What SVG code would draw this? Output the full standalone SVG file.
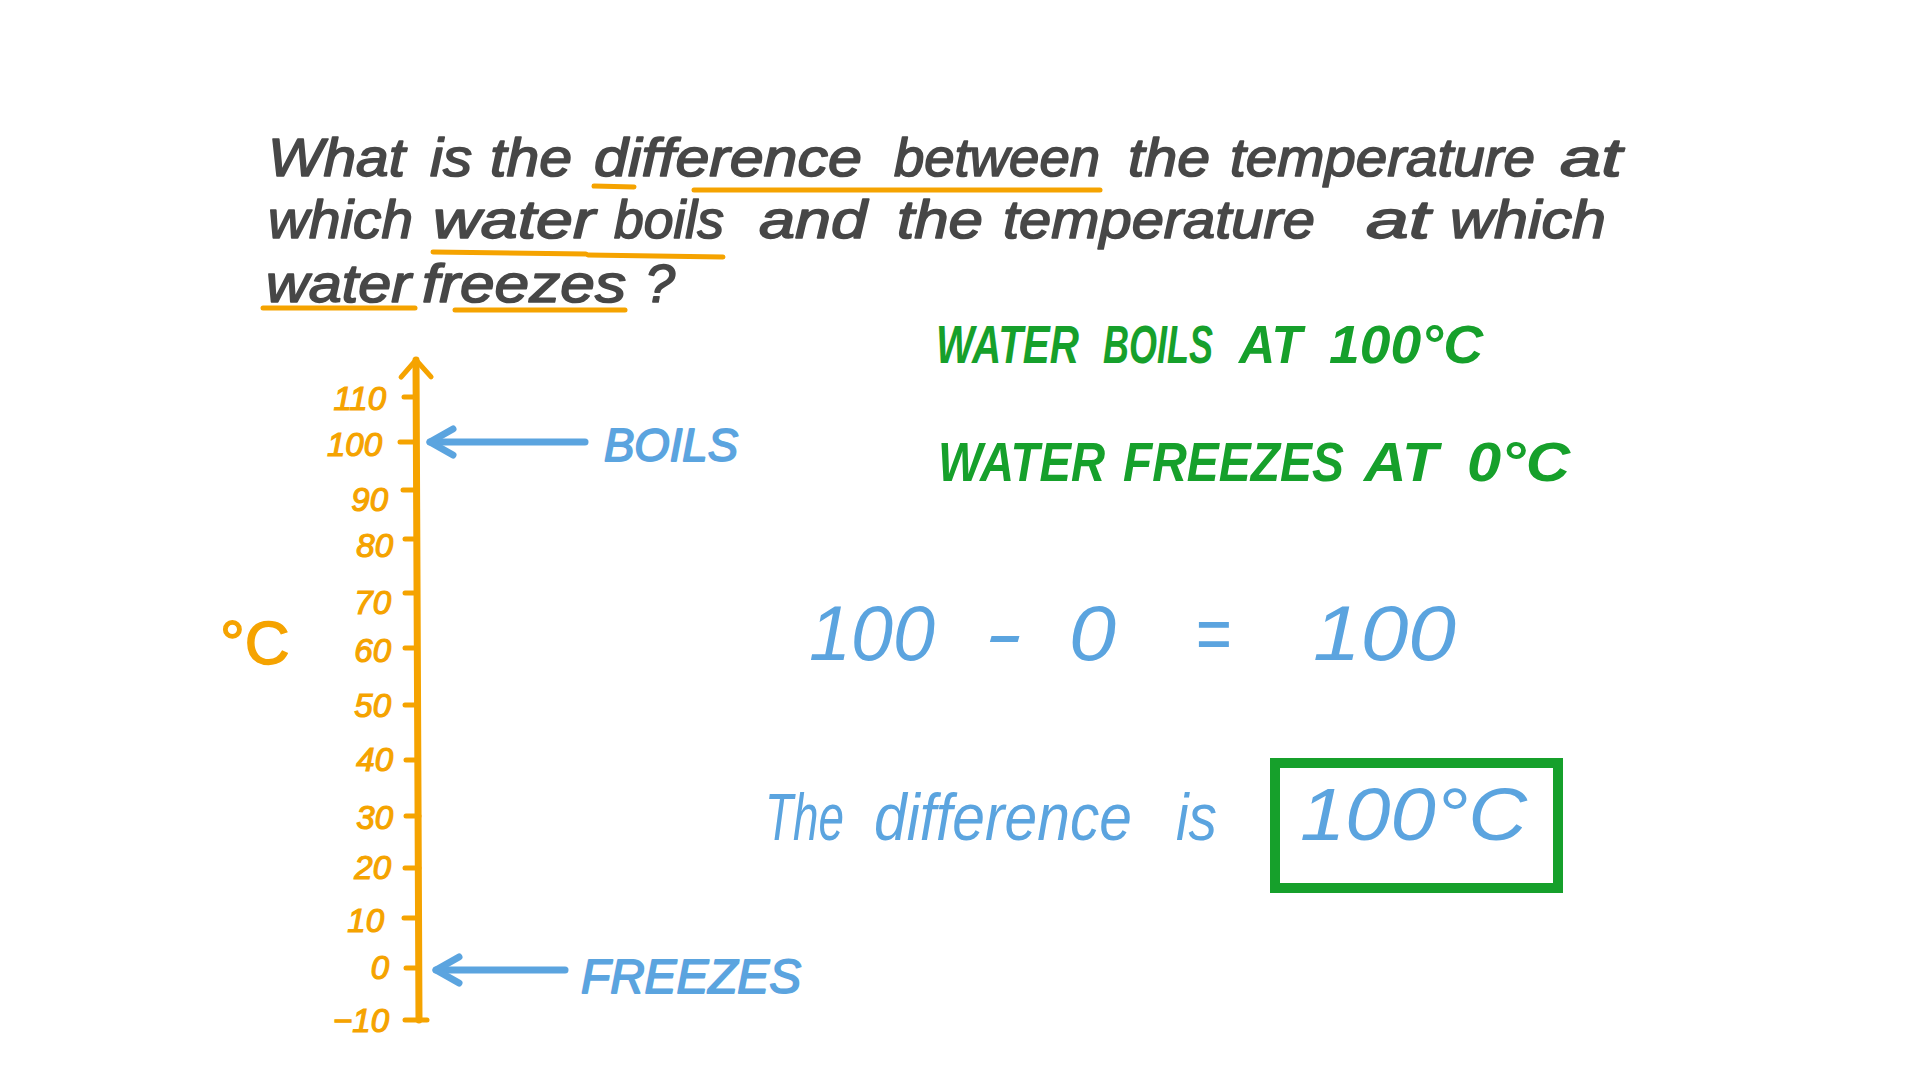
<svg xmlns="http://www.w3.org/2000/svg" width="1920" height="1080" viewBox="0 0 1920 1080">
<style>
.q{font-family:"Liberation Sans",Arial,sans-serif;font-style:italic;font-size:54px;fill:#474747;stroke:#474747;stroke-width:1.6;stroke-linejoin:round}
.ul{stroke:#F5A300;stroke-width:5;stroke-linecap:round;fill:none}
.ax{stroke:#F5A300;stroke-width:7;stroke-linecap:round;fill:none}
.tk{stroke:#F5A300;stroke-width:5;stroke-linecap:round}
.tl{font-family:"Liberation Sans",Arial,sans-serif;font-style:italic;font-size:33px;fill:#F5A300;stroke:#F5A300;stroke-width:1.2;text-anchor:end}
.unit{font-family:"Liberation Sans",Arial,sans-serif;font-size:62px;fill:#F5A300;stroke:#F5A300;stroke-width:1.5}
.bl{font-family:"Liberation Sans",Arial,sans-serif;font-style:italic;fill:#5BA4DF}
.bb{stroke:#5BA4DF;stroke-width:1.8;stroke-linejoin:round}
.gr{font-family:"Liberation Sans",Arial,sans-serif;font-style:italic;font-weight:bold;fill:#16A02B}
.arr{stroke:#5BA4DF;stroke-width:7;stroke-linecap:round;fill:none}
</style>
<defs>
<marker id="chevBlue" markerUnits="userSpaceOnUse" markerWidth="40" markerHeight="40" viewBox="-30 -20 40 40" refX="0" refY="0" orient="auto" overflow="visible">
<path d="M-23,-13 L0,0 L-23,13" fill="none" stroke="#5BA4DF" stroke-width="7" stroke-linecap="round" stroke-linejoin="round"/>
</marker>
<marker id="chevOrange" markerUnits="userSpaceOnUse" markerWidth="40" markerHeight="40" viewBox="-30 -20 40 40" refX="0" refY="0" orient="auto" overflow="visible">
<path d="M-17,-15 L0,0 L-17,15" fill="none" stroke="#F5A300" stroke-width="5" stroke-linecap="round" stroke-linejoin="round"/>
</marker>
</defs>
<rect width="1920" height="1080" fill="#ffffff"/>

<g id="question">
<text class="q" y="176"><tspan x="268" textLength="137" lengthAdjust="spacingAndGlyphs">What</tspan><tspan x="430" textLength="42" lengthAdjust="spacingAndGlyphs">is</tspan><tspan x="490" textLength="82" lengthAdjust="spacingAndGlyphs">the</tspan><tspan x="594" textLength="268" lengthAdjust="spacingAndGlyphs">difference</tspan><tspan x="894" textLength="206" lengthAdjust="spacingAndGlyphs">between</tspan><tspan x="1128" textLength="82" lengthAdjust="spacingAndGlyphs">the</tspan><tspan x="1230" textLength="305" lengthAdjust="spacingAndGlyphs">temperature</tspan><tspan x="1560" textLength="62" lengthAdjust="spacingAndGlyphs">at</tspan></text>
<text class="q" y="238"><tspan x="268" textLength="145" lengthAdjust="spacingAndGlyphs">which</tspan><tspan x="433" textLength="162" lengthAdjust="spacingAndGlyphs">water</tspan><tspan x="614" textLength="110" lengthAdjust="spacingAndGlyphs">boils</tspan><tspan x="759" textLength="108" lengthAdjust="spacingAndGlyphs">and</tspan><tspan x="897" textLength="86" lengthAdjust="spacingAndGlyphs">the</tspan><tspan x="1003" textLength="312" lengthAdjust="spacingAndGlyphs">temperature</tspan><tspan x="1366" textLength="64" lengthAdjust="spacingAndGlyphs">at</tspan><tspan x="1450" textLength="156" lengthAdjust="spacingAndGlyphs">which</tspan></text>
<text class="q" y="302"><tspan x="266" textLength="145" lengthAdjust="spacingAndGlyphs">water</tspan><tspan x="422" textLength="204" lengthAdjust="spacingAndGlyphs">freezes</tspan><tspan x="645">?</tspan></text>
<g id="underlines">
<path class="ul" d="M594,186 L634,187"/>
<path class="ul" d="M694,190 L1100,190"/>
<path class="ul" d="M433,252 L586,254"/>
<path class="ul" d="M588,255 L723,257"/>
<path class="ul" d="M263,308 L415,308"/>
<path class="ul" d="M455,310 L625,310"/>
</g>
</g>

<g id="axis">
<path class="ax" d="M419,1020 L416,360" marker-end="url(#chevOrange)"/>
<g id="ticks">
<line class="tk" x1="404" y1="397" x2="416" y2="397"/>
<line class="tk" x1="400" y1="442" x2="416" y2="442"/>
<line class="tk" x1="403" y1="490" x2="416" y2="490"/>
<line class="tk" x1="405" y1="539" x2="416" y2="539"/>
<line class="tk" x1="405" y1="593" x2="417" y2="593"/>
<line class="tk" x1="405" y1="648" x2="417" y2="648"/>
<line class="tk" x1="405" y1="705" x2="417" y2="705"/>
<line class="tk" x1="406" y1="760" x2="418" y2="760"/>
<line class="tk" x1="406" y1="816" x2="419" y2="816"/>
<line class="tk" x1="405" y1="868" x2="419" y2="868"/>
<line class="tk" x1="404" y1="918" x2="419" y2="918"/>
<line class="tk" x1="406" y1="968" x2="419" y2="968"/>
<line class="tk" x1="405" y1="1020" x2="427" y2="1020"/>
</g>
<g id="tick-labels">
<text class="tl" x="386" y="410">110</text>
<text class="tl" x="382" y="456">100</text>
<text class="tl" x="388" y="511">90</text>
<text class="tl" x="393" y="557">80</text>
<text class="tl" x="391" y="614">70</text>
<text class="tl" x="391" y="662">60</text>
<text class="tl" x="391" y="717">50</text>
<text class="tl" x="393" y="771">40</text>
<text class="tl" x="393" y="829">30</text>
<text class="tl" x="391" y="879">20</text>
<text class="tl" x="384" y="932">10</text>
<text class="tl" x="389" y="979">0</text>
<text class="tl" x="389" y="1032">−10</text>
</g>
<text id="unit" class="unit" x="220" y="664">°C</text>
</g>

<g id="connectors">
<path id="arrow-boils" class="arr" d="M585,442 L430,442" marker-end="url(#chevBlue)"/>
<path id="arrow-freezes" class="arr" d="M565,970 L436,970" marker-end="url(#chevBlue)"/>
</g>

<g id="label-boils">
<text class="bl bb" x="604" y="461" font-size="46" textLength="134" lengthAdjust="spacingAndGlyphs">BOILS</text>
</g>
<g id="label-freezes">
<text class="bl bb" x="581" y="993" font-size="48" textLength="220" lengthAdjust="spacingAndGlyphs">FREEZES</text>
</g>

<g id="facts">
<text class="gr" transform="translate(0,363) scale(1,1.2)" y="0" font-size="44"><tspan x="936" textLength="143" lengthAdjust="spacingAndGlyphs">WATER</tspan><tspan x="1103" textLength="110" lengthAdjust="spacingAndGlyphs">BOILS</tspan><tspan x="1239" textLength="63" lengthAdjust="spacingAndGlyphs">AT</tspan><tspan x="1329" textLength="154" lengthAdjust="spacingAndGlyphs">100°C</tspan></text>
<text class="gr" transform="translate(0,481) scale(1,1.2)" y="0" font-size="46"><tspan x="938" textLength="167" lengthAdjust="spacingAndGlyphs">WATER</tspan><tspan x="1123" textLength="221" lengthAdjust="spacingAndGlyphs">FREEZES</tspan><tspan x="1364" textLength="74" lengthAdjust="spacingAndGlyphs">AT</tspan><tspan x="1467" textLength="103" lengthAdjust="spacingAndGlyphs">0°C</tspan></text>
</g>

<g id="equation">
<text class="bl" y="660" font-size="78"><tspan x="809" textLength="126" lengthAdjust="spacingAndGlyphs">100</tspan><tspan x="984" textLength="38" lengthAdjust="spacingAndGlyphs">-</tspan><tspan x="1069" textLength="47" lengthAdjust="spacingAndGlyphs">0</tspan><tspan x="1195" textLength="36" lengthAdjust="spacingAndGlyphs">=</tspan><tspan x="1313" textLength="143" lengthAdjust="spacingAndGlyphs">100</tspan></text>
</g>

<g id="answer">
<text class="bl" y="840" font-size="66"><tspan x="765" textLength="79" lengthAdjust="spacingAndGlyphs">The</tspan><tspan x="874" textLength="258" lengthAdjust="spacingAndGlyphs">difference</tspan><tspan x="1176" textLength="41" lengthAdjust="spacingAndGlyphs">is</tspan></text>
<rect x="1275" y="763" width="283" height="125" fill="none" stroke="#16A02B" stroke-width="10"/>
<text class="bl" x="1300" y="840" font-size="74" textLength="227" lengthAdjust="spacingAndGlyphs">100°C</text>
</g>
</svg>
